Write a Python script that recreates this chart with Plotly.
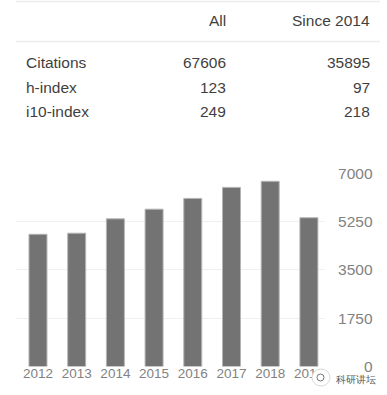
import plotly.graph_objects as go

W, H = 387, 395

years = ["2012", "2013", "2014", "2015", "2016", "2017", "2018", "2019"]
citations = [4790, 4830, 5350, 5700, 6090, 6490, 6710, 5390]
y_ticks = [0, 1750, 3500, 5250, 7000]

table_header = ["", "All", "Since 2014"]
row_labels = ["Citations", "h-index", "i10-index"]
col_all = ["67606", "123", "249"]
col_since = ["35895", "97", "218"]
watermark_text = "科研讲坛"

FONT = "Liberation Sans"
TEXT = "#3f3f3f"
AXIS = "#828282"


def px(x):
    return x / W


def py(y):
    return 1 - y / H


fig = go.Figure(go.Bar(
    x=list(range(len(years))), y=citations, width=0.465,
    marker=dict(color="#737373", line=dict(color="#b5b5b5", width=1)),
))

notes = []


def note(text, x, y, anchor, size=15.5, color=TEXT):
    notes.append(dict(text=text, x=px(x), y=py(y), xref="paper", yref="paper",
                      xanchor=anchor, yanchor="middle", showarrow=False,
                      font=dict(family=FONT, size=size, color=color)))


note(table_header[1], 228, 21, "right")
note(table_header[2], 372, 21, "right")
for lab, a, s, yy in zip(row_labels, col_all, col_since, [63, 87.5, 112]):
    note(lab, 24, yy, "left")
    note(a, 228, yy, "right")
    note(s, 372, yy, "right")
note(watermark_text, 356, 379, "center", size=10, color="#555555")

shapes = []
for yy in (1.5, 41.5):
    shapes.append(dict(type="line", xref="paper", yref="paper",
                       x0=px(16), x1=px(380), y0=py(yy), y1=py(yy),
                       line=dict(color="#ececec", width=1.5)))
# watermark: white patch with a small speech-bubble icon on top of the axis labels
shapes.append(dict(type="circle", xref="paper", yref="paper",
                   x0=px(312), x1=px(330), y0=py(386), y1=py(369),
                   fillcolor="white", line=dict(color="#d8d8d8", width=1)))
shapes.append(dict(type="circle", xref="paper", yref="paper",
                   x0=px(317), x1=px(324), y0=py(381), y1=py(374),
                   fillcolor="white", line=dict(color="#777777", width=1)))

fig.update_layout(
    template=None,
    width=W, height=H, autosize=False,
    margin=dict(l=0, r=0, t=0, b=0, pad=0),
    paper_bgcolor="white", plot_bgcolor="white",
    showlegend=False, annotations=notes, shapes=shapes,
    xaxis=dict(domain=[px(16), px(325)], range=[-0.568, 7.416], automargin=False,
               tickmode="array", tickvals=list(range(len(years))), ticktext=years,
               tickfont=dict(family=FONT, size=13.5, color=AXIS),
               ticks="", ticklabelstandoff=-3,
               showgrid=False, zeroline=False, showline=False),
    yaxis=dict(domain=[py(366.5), py(173.3)], range=[0, 7000], automargin=False,
               anchor="free", position=px(372.5), side="left",
               tickmode="array", tickvals=y_ticks, ticktext=[str(v) for v in y_ticks],
               tickfont=dict(family=FONT, size=15.5, color=AXIS),
               ticks="", showline=False, zeroline=False,
               showgrid=True, gridcolor="#f0f0f0", gridwidth=1),
)

fig.write_html("out.html", config={"displayModeBar": False},
               post_script="document.body.style.margin='0';")
